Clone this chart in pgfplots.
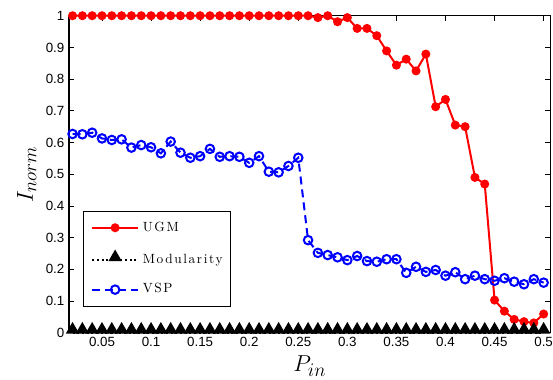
\documentclass[border=0pt]{standalone}
\usepackage{fontspec}
\usepackage{pgfplots}
\pgfplotsset{compat=1.18}
\usepackage{pgfplotstable}
\newfontfamily\arialf{Liberation Sans}
\newfontfamily\legfont[LetterSpace=12]{lmroman10-regular.otf}

\pgfplotstableread{
x ugm mod vsp
0.02 1 0 0.627
0.03 1 0 0.626
0.04 1 0 0.631
0.05 1 0 0.613
0.06 1 0 0.608
0.07 1 0 0.610
0.08 1 0 0.584
0.09 1 0 0.592
0.10 1 0 0.585
0.11 1 0 0.566
0.12 1 0 0.603
0.13 1 0 0.568
0.14 1 0 0.552
0.15 1 0 0.557
0.16 1 0 0.580
0.17 1 0 0.555
0.18 1 0 0.557
0.19 1 0 0.555
0.20 1 0 0.536
0.21 1 0 0.557
0.22 1 0 0.508
0.23 1 0 0.506
0.24 1 0 0.526
0.25 1 0 0.552
0.26 1 0 0.292
0.27 0.994 0 0.252
0.28 1 0 0.245
0.29 0.981 0 0.238
0.30 0.994 0 0.229
0.31 0.960 0 0.242
0.32 0.960 0 0.226
0.33 0.937 0 0.224
0.34 0.889 0 0.232
0.35 0.844 0 0.232
0.36 0.863 0 0.189
0.37 0.826 0 0.208
0.38 0.879 0 0.192
0.39 0.713 0 0.198
0.40 0.736 0 0.180
0.41 0.655 0 0.191
0.42 0.650 0 0.169
0.43 0.490 0 0.180
0.44 0.469 0 0.169
0.45 0.103 0 0.164
0.46 0.068 0 0.172
0.47 0.042 0 0.161
0.48 0.035 0 0.153
0.49 0.031 0 0.169
0.50 0.059 0 0.158
}\datatable

\begin{document}
\begin{tikzpicture}
\begin{axis}[
  scale only axis,
  width=361.1pt, height=237.75pt,
  xmin=0.0164, xmax=0.507, ymin=0, ymax=1,
  xtick={0.05,0.10,0.15,0.20,0.25,0.30,0.35,0.40,0.45,0.50},
  xticklabels={0.05,0.1,0.15,0.2,0.25,0.3,0.35,0.4,0.45,0.5},
  ytick={0,0.1,0.2,0.3,0.4,0.5,0.6,0.7,0.8,0.9,1},
  yticklabels={0,0.1,0.2,0.3,0.4,0.5,0.6,0.7,0.8,0.9,1},
  tick label style={font=\arialf\fontsize{10}{12}\selectfont},
  tick align=inside,
  major tick length=3.75pt,
  axis line style={line width=0.8pt},
  every tick/.style={black, line width=0.6pt},
  xlabel={$P_{in}$}, ylabel={$I_{norm}$},
  label style={font=\fontsize{19}{22}\selectfont},
  xlabel style={at={(axis description cs:0.5,0)}, anchor=base, yshift=-29.25pt},
  ylabel style={at={(axis description cs:-0.0748,0.5)}, anchor=base},
  clip=false,
  legend image code/.code={\draw[mark repeat=2,mark phase=2] plot coordinates {(0cm,0cm)(0.6cm,0cm)(1.2cm,0cm)};},
  legend style={at={(0.029,0.385)}, anchor=north west, draw=black, line width=0.6pt,
    font=\legfont\fontsize{10}{12}\selectfont,
    nodes={inner sep=0pt, text height=7pt, text depth=2pt},
    row sep=13pt, column sep=3pt, inner xsep=6pt, inner ysep=8pt},
  legend cell align=left,
]
\coordinate (SW) at (rel axis cs:0,0);
\coordinate (NE) at (rel axis cs:1,1);
\addplot[red, line width=1.5pt, mark=*, mark size=2.6pt, mark options={solid, fill=red}]
  table[x=x,y=ugm]{\datatable};
\addlegendentry{UGM}
\addplot[black, dotted, line width=1.5pt, mark=triangle*, mark size=4.6pt,
  mark options={solid, fill=black, line width=1.2pt, yshift=2.3pt}]
  table[x=x,y=mod]{\datatable};
\addlegendentry{Modularity}
\addplot[blue, line width=1.5pt, dash pattern=on 6pt off 3.75pt, mark=o, mark size=3.2pt,
  mark options={solid, line width=1.5pt}]
  table[x=x,y=vsp]{\datatable};
\addlegendentry{VSP}
\end{axis}
\pgfresetboundingbox
\path[use as bounding box] ([shift={(-51.75pt,-35.25pt)}]SW) rectangle ([shift={(1.875pt,11.8pt)}]NE);
\end{tikzpicture}
\end{document}
